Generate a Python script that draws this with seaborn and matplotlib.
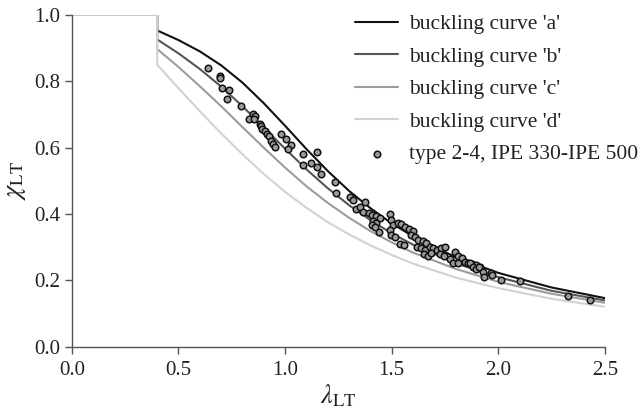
import matplotlib
matplotlib.use('Agg')
import matplotlib.pyplot as plt
import seaborn as sns
import pandas as pd

# buckling curves
lam = [0.0, 0.4, 0.4, 0.5, 0.6, 0.7, 0.8, 0.9, 1.0, 1.1, 1.2, 1.3, 1.4,
       1.5, 1.6, 1.8, 2.0, 2.25, 2.5]
chi_a = [1.0, 1.0, 0.953, 0.924, 0.890, 0.848, 0.796, 0.734, 0.666, 0.596,
         0.530, 0.470, 0.418, 0.372, 0.333, 0.270, 0.223, 0.179, 0.147]
chi_b = [1.0, 1.0, 0.926, 0.884, 0.837, 0.784, 0.725, 0.661, 0.597, 0.535,
         0.478, 0.427, 0.382, 0.342, 0.308, 0.252, 0.210, 0.169, 0.140]
chi_c = [1.0, 1.0, 0.897, 0.843, 0.785, 0.725, 0.662, 0.600, 0.540, 0.484,
         0.434, 0.389, 0.349, 0.315, 0.284, 0.235, 0.196, 0.160, 0.133]
chi_d = [1.0, 1.0, 0.850, 0.779, 0.710, 0.643, 0.580, 0.521, 0.467, 0.419,
         0.376, 0.339, 0.306, 0.277, 0.251, 0.209, 0.177, 0.145, 0.121]

curve_names = ["buckling curve 'a'", "buckling curve 'b'",
               "buckling curve 'c'", "buckling curve 'd'"]
curve_colors = ['#111111', '#555555', '#9c9c9c', '#d2d2d2']

# test results, type 2-4
test_lam = [0.639, 0.694, 0.694, 0.702, 0.738, 0.726, 0.793, 0.848, 0.860, 0.830,
            0.854, 0.882, 0.885, 0.893, 0.905, 0.916, 0.925, 0.932, 0.944, 0.954,
            0.982, 1.004, 1.026, 1.012, 1.082, 1.149, 1.082, 1.121, 1.148, 1.170,
            1.234, 1.241, 1.304, 1.317, 1.377, 1.335, 1.351, 1.366, 1.395, 1.410,
            1.429, 1.445, 1.492, 1.413, 1.429, 1.410, 1.421, 1.440, 1.496, 1.507,
            1.531, 1.546, 1.562, 1.582, 1.601, 1.492, 1.499, 1.515, 1.538, 1.557,
            1.593, 1.609, 1.624, 1.648, 1.663, 1.621, 1.640, 1.656, 1.679, 1.695,
            1.711, 1.734, 1.750, 1.651, 1.671, 1.687, 1.726, 1.745, 1.796, 1.812,
            1.828, 1.843, 1.859, 1.875, 1.898, 1.914, 1.773, 1.788, 1.812, 1.867,
            1.882, 1.895, 1.910, 1.929, 1.932, 1.964, 1.973, 2.011, 2.101, 2.328,
            2.433]
test_chi = [0.839, 0.816, 0.809, 0.779, 0.774, 0.746, 0.726, 0.702, 0.696, 0.686,
            0.686, 0.672, 0.664, 0.656, 0.651, 0.642, 0.636, 0.621, 0.611, 0.601,
            0.642, 0.627, 0.608, 0.596, 0.581, 0.587, 0.548, 0.553, 0.541, 0.522,
            0.498, 0.463, 0.450, 0.443, 0.435, 0.415, 0.421, 0.405, 0.403, 0.396,
            0.393, 0.388, 0.401, 0.380, 0.374, 0.367, 0.360, 0.347, 0.383, 0.367,
            0.374, 0.370, 0.360, 0.354, 0.350, 0.352, 0.337, 0.330, 0.310, 0.307,
            0.337, 0.330, 0.322, 0.320, 0.312, 0.302, 0.297, 0.292, 0.302, 0.297,
            0.292, 0.297, 0.302, 0.280, 0.274, 0.282, 0.280, 0.274, 0.287, 0.274,
            0.267, 0.257, 0.252, 0.250, 0.247, 0.242, 0.264, 0.254, 0.252, 0.252,
            0.240, 0.234, 0.242, 0.227, 0.212, 0.222, 0.217, 0.202, 0.197, 0.152,
            0.142]

sns.set_style('ticks')
plt.rcParams['font.family'] = ['Liberation Serif', 'DejaVu Serif']
plt.rcParams['mathtext.fontset'] = 'stix'

curves = pd.DataFrame({
    'lam': lam * 4,
    'chi': chi_a + chi_b + chi_c + chi_d,
    'curve': [n for n in curve_names for _ in lam],
})
tests = pd.DataFrame({'lam': test_lam, 'chi': test_chi})

fig = plt.figure(figsize=(6.42, 4.12), dpi=100)
ax = fig.add_axes([0.112, 0.158, 0.830, 0.806])

sns.lineplot(data=curves, x='lam', y='chi', hue='curve', hue_order=curve_names,
             palette=curve_colors, estimator=None, sort=False, linewidth=1.5, ax=ax)
sns.scatterplot(data=tests, x='lam', y='chi', color='#9a9a9a', edgecolor='#111111',
                linewidth=1.1, s=22, label='type 2-4, IPE 330-IPE 500', ax=ax, zorder=5)

ax.set_xlim(0, 2.5)
ax.set_ylim(0, 1.0)
ax.set_xticks([0.0, 0.5, 1.0, 1.5, 2.0, 2.5])
ax.set_yticks([0.0, 0.2, 0.4, 0.6, 0.8, 1.0])
ax.xaxis.set_major_formatter(matplotlib.ticker.FormatStrFormatter('%.1f'))
ax.yaxis.set_major_formatter(matplotlib.ticker.FormatStrFormatter('%.1f'))
ax.tick_params(direction='out', length=5, width=1, color='#555555',
               labelsize=15, labelcolor='#222222')
ax.tick_params(axis='x', pad=5)
for side in ['left', 'bottom']:
    ax.spines[side].set_color('#555555')
    ax.spines[side].set_linewidth(1)
sns.despine(ax=ax)

ax.set_xlabel(r'$\lambda_{\mathrm{LT}}$', fontsize=19, color='#222222', labelpad=2)
ax.set_ylabel(r'$\chi_{\mathrm{LT}}$', fontsize=19, color='#222222', labelpad=4)

ax.legend(loc='upper left', bbox_to_anchor=(0.553, 0.966), bbox_transform=fig.transFigure,
          frameon=False, fontsize=15.5, handlelength=2.0, handletextpad=0.5,
          labelspacing=0.58, borderaxespad=0, borderpad=0, labelcolor='#222222')

plt.savefig('out.png', dpi=100)
